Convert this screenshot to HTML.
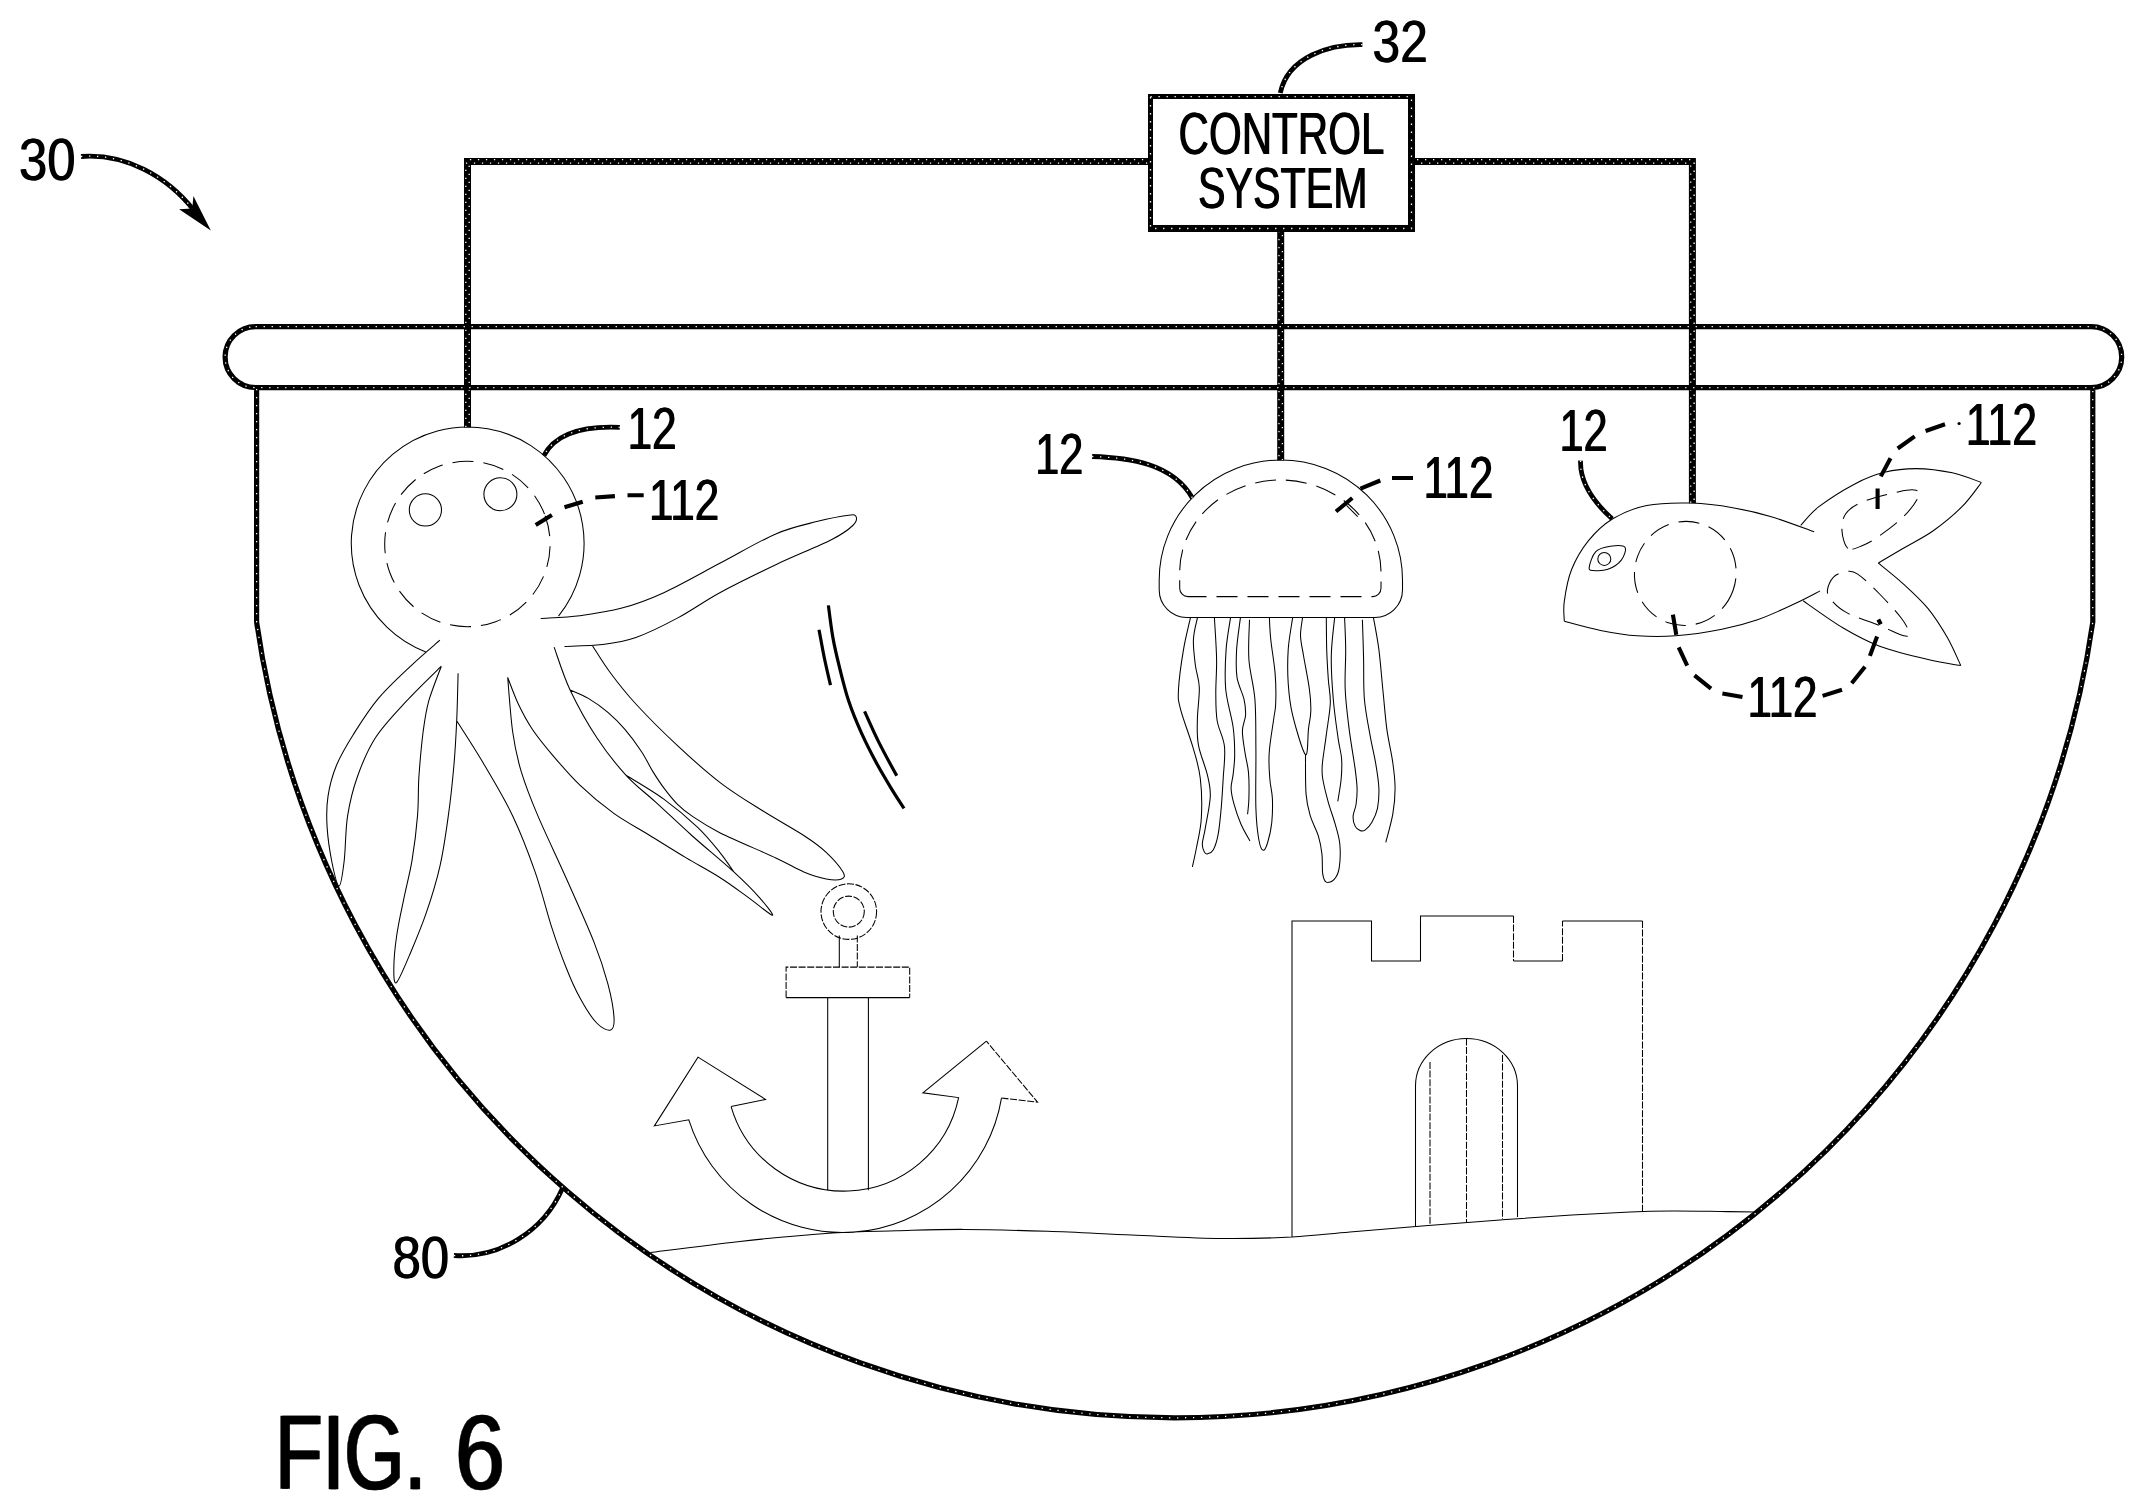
<!DOCTYPE html>
<html lang="en"><head><meta charset="utf-8"><title>FIG. 6</title>
<style>
html,body{margin:0;padding:0;background:#fff}
body{width:2144px;height:1512px;overflow:hidden}
svg{display:block;font-family:"Liberation Sans",sans-serif}
.thin{fill:none;stroke:#000;stroke-width:1.05}
.ds{stroke-dasharray:7 1.6}
.dl{stroke-dasharray:21 10}
.wire{fill:none;stroke:#000;stroke-width:7;stroke-linejoin:miter}
.frame{fill:none;stroke:#000;stroke-width:5.2}
.dots{fill:none;stroke:#fff;stroke-width:1.3;stroke-dasharray:1.3 6.7}
.med{fill:none;stroke:#000;stroke-width:4.8}
.dsh{fill:none;stroke:#000;stroke-width:4.1}
.mot{fill:none;stroke:#000;stroke-width:3.2}
.fill{fill:#000}
.txt{fill:#000}
.big{stroke:#000;stroke-width:0.4}
</style></head>
<body>
<svg width="2144" height="1512" viewBox="0 0 2144 1512">
<defs>
<filter id="hb1" x="-2%" y="-2%" width="104%" height="104%"><feOffset in="SourceGraphic" dx="0.5" result="a"/><feOffset in="SourceGraphic" dx="-0.5" result="b"/><feMerge><feMergeNode in="a"/><feMergeNode in="b"/></feMerge></filter>
<filter id="hb2" x="-5%" y="-10%" width="110%" height="120%"><feOffset in="SourceGraphic" dx="0.75" result="a"/><feOffset in="SourceGraphic" dx="-0.75" result="b"/><feMerge><feMergeNode in="a"/><feMergeNode in="b"/></feMerge></filter>
</defs>
<rect width="2144" height="1512" fill="#fff"/>
<g class="thin"><path d="M425.8 652A116.4 116.4 0 1 1 558.5 616.2M540.7 618.5C547.2 618 566.3 617.4 579.9 615.7C593.4 613.9 607.9 611.9 621.9 608.1C635.9 604.3 647.5 600.2 663.8 592.7C680.2 585.2 701.2 573.1 719.8 563.3C738.5 553.5 759.5 540.9 775.8 533.9C792.1 526.9 805.6 524.5 817.8 521.3C829.9 518.2 842.2 516 848.6 515.2C854.9 514.4 855.4 514.9 856.1 516.6C856.8 518.3 856.8 521.7 852.8 525.5C848.7 529.4 844.6 533 831.8 539.5C818.9 546.1 794.4 555.9 775.8 564.7C757.1 573.6 736.1 583.8 719.8 592.7C703.5 601.6 691.8 610.4 677.8 617.9C663.8 625.4 648.4 633.1 635.9 637.5C623.3 641.9 614.2 643 602.3 644.5C590.4 646 570.8 646.1 564.5 646.4M439.9 640.2C435.3 644.3 422.2 655.1 412 664.8C401.7 674.5 388.2 686.7 378.4 698.4C368.6 710 360.2 723.6 353.2 734.7C346.2 745.9 340.6 755.3 336.4 765.5C332.2 775.8 329.5 786.1 328 796.3C326.4 806.6 326.4 815.9 327.1 827.1C327.8 838.3 330.2 853.7 332.2 863.5C334.2 873.3 337.2 886.3 339.2 885.9C341.2 885.4 342.8 872.4 344.2 860.7C345.6 849 345.4 829.9 347.6 815.9C349.8 801.9 352.7 789.8 357.4 776.7C362 763.7 367.4 750.1 375.6 737.5C383.7 725 395.4 713.1 406.4 701.2C417.3 689.3 435.5 672 441.3 666.2M441.3 666.2C439.2 672 431.8 690.2 428.7 701.2C425.7 712.1 424.8 719.4 423.1 732C421.5 744.5 419.9 762.7 418.9 776.7C418 790.7 418.7 801.9 417.5 815.9C416.4 829.9 414.3 846.7 412 860.7C409.6 874.7 406.1 887.3 403.6 899.9C401 912.5 398.2 924.6 396.6 936.3C394.9 947.9 393.8 962.1 393.8 969.8C393.8 977.5 394 984.8 396.6 982.4C399.1 980.1 404.3 967.3 409.2 955.9C414 944.4 420.8 928.8 425.9 913.9C431.1 898.9 436.2 882.6 439.9 866.3C443.7 850 446 832.7 448.3 815.9C450.7 799.1 452.5 781.4 453.9 765.5C455.3 749.7 456 736.1 456.7 720.8C457.4 705.4 457.9 681.1 458.1 673.2M456.7 720.8C461.4 728.2 475.4 749.7 484.7 765.5C494 781.4 504.3 798.2 512.7 815.9C521.1 833.6 528.6 853.2 535.1 871.9C541.6 890.5 546.8 912 551.9 927.9C557 943.7 561.2 955.4 565.9 967C570.5 978.7 574.7 988.5 579.9 997.8C585 1007.2 591.5 1017.7 596.7 1023C601.8 1028.4 607.8 1031 610.7 1030C613.6 1029.1 614.5 1025.1 614 1017.4C613.6 1009.7 611.2 996.4 607.9 983.8C604.5 971.2 600.9 959.6 593.9 941.9C586.9 924.1 575.2 898.5 565.9 877.5C556.6 856.5 545.4 833.6 537.9 815.9C530.4 798.2 525.3 785.1 521.1 771.1C516.9 757.1 514.9 747.6 512.7 732C510.5 716.3 508.5 686.5 507.7 677.4M507.7 677.4C509.4 681.8 514.2 695.3 518.3 704C522.4 712.6 526.7 720.8 532.3 729.2C537.9 737.5 544 745 551.9 754.3C559.8 763.7 569.6 775.3 579.9 785.1C590.1 794.9 601.8 804.7 613.5 813.1C625.1 821.5 637.7 828 649.8 835.5C662 843 674.6 850.9 686.2 857.9C697.9 864.9 709.6 871 719.8 877.5C730.1 884 739 890.8 747.8 897.1C756.6 903.4 770.6 915.3 772.4 915.3C774.3 915.3 765.4 904.3 759 897.1C752.6 889.8 745 882.2 733.8 871.9C722.6 861.6 704.9 847.2 691.8 835.5C678.8 823.8 666.4 811.9 655.4 801.9C644.5 791.9 635.9 786.1 626.1 775.3C616.3 764.6 606 751.8 596.7 737.5C587.3 723.3 577.2 705 570.1 690C563 674.9 556.8 654.3 554.1 647.1M570.1 690C573.1 691.4 582 694.6 588.3 698.4C594.6 702.1 601.8 707.2 607.9 712.4C613.9 717.5 619.1 722.6 624.7 729.2C630.3 735.7 636.8 744.5 641.4 751.5C646.1 758.5 648.9 765.1 652.6 771.1C656.4 777.2 659.6 782.3 663.8 787.9C668 793.5 673.2 800.1 677.8 804.7C682.5 809.4 684.8 811.2 691.8 815.9C698.8 820.6 705.8 825.7 719.8 832.7C733.8 839.7 761.8 851.4 775.8 857.9C789.8 864.4 795.4 868.4 803.8 871.9C812.2 875.4 819.9 877.7 826.2 878.9C832.5 880.1 838.8 880.1 841.6 878.9C844.4 877.7 845.5 876.3 843 871.9C840.4 867.5 832.7 858.4 826.2 852.3C819.6 846.2 814.5 842.5 803.8 835.5C793 828.5 775.8 819.2 761.8 810.3C747.8 801.5 733.8 793.1 719.8 782.3C705.8 771.6 691.8 759 677.8 745.9C663.8 732.9 647 716.1 635.9 704C624.7 691.8 617.9 682.9 610.7 673.2C603.4 663.5 595.5 650.3 592.5 645.7M626.1 775.3C632.4 779.3 651.9 790.5 663.8 799.1C675.7 807.8 688.1 818.2 697.4 827.1C706.8 836 713.8 844.8 719.8 852.3C725.9 859.8 731.5 868.6 733.8 871.9M839.3 935.4V967.1M786.1 997.6H909.7M827.7 997.6V1190.2M868.4 997.6V1190.2M731.1 1106.6L765.5 1099.4L698 1057.1L654.4 1125.9L688.8 1119.8A161.2 161.2 0 0 0 1001.5 1098.1M986.4 1041.2L922.9 1092.8L958.6 1097.6A117.3 117.3 0 0 1 731.1 1106.6M650.4 1252.6C665.3 1250.7 709.6 1244.7 739.9 1241.4C770.2 1238.1 806.2 1234.8 832.3 1233C858.4 1231.2 874.8 1231.4 896.7 1230.8C918.6 1230.2 938.6 1229.3 963.8 1229.4C989 1229.5 1019.8 1230.4 1047.8 1231.3C1075.8 1232.2 1102.7 1233.8 1131.7 1235C1160.7 1236.2 1195.3 1238.2 1222 1238.5C1248.7 1238.8 1270.7 1238.1 1292 1237C1313.3 1235.9 1328.3 1233.8 1350 1232C1371.7 1230.2 1397 1228 1422 1226C1447 1224 1475 1221.8 1500 1220C1525 1218.2 1550.3 1216.3 1572 1215C1593.7 1213.7 1613.3 1212.7 1630 1212C1646.7 1211.3 1657 1211.1 1672 1211C1687 1210.9 1705.8 1211.3 1720 1211.5C1734.2 1211.7 1750.8 1211.9 1757 1212M1292 1237V921H1371.5V961H1420.5V916H1513.5M1513.5 961H1562.5M1562.5 921H1642.5M1415.5 1226V1086A51 47.5 0 0 1 1517.5 1086V1217M1186.7 617.4A27.5 27.5 0 0 1 1159.2 590V580A121.65 120 0 0 1 1402.5 580V590A27.5 27.5 0 0 1 1375 617.4ZM1346.5 505.4L1357.7 516.6M1190.4 617.9C1189.3 623.1 1185.5 637.7 1183.5 649.6C1181.5 661.5 1179 679.3 1178.5 689.3C1178 699.2 1178 699.2 1180.5 709.1C1183 719 1190.1 737.2 1193.4 748.8C1196.7 760.4 1199 767 1200.3 778.5C1201.7 790.1 1202 806.6 1201.3 818.2C1200.7 829.8 1197.9 839.9 1196.4 848C1194.9 856.1 1193.1 863.7 1192.4 866.8M1197.4 617.9C1196.7 621.5 1193.7 631.7 1193.4 639.7C1193.1 647.6 1194.4 657.5 1195.4 665.5C1196.4 673.4 1199 678.4 1199.3 687.3C1199.7 696.2 1197.5 709.4 1197.4 719C1197.2 728.6 1196.7 735.6 1198.4 744.8C1200 754.1 1205.3 766 1207.3 774.6C1209.3 783.2 1210.6 787.5 1210.3 796.4C1209.9 805.3 1206.6 820.2 1205.3 828.1C1204 836.1 1202.5 840 1202.3 844C1202.2 848 1203.5 850.3 1204.3 851.9C1205.1 853.6 1205.8 854.2 1207.3 853.9C1208.8 853.6 1211.4 853.3 1213.2 850C1215.1 846.6 1216.9 841 1218.2 834.1C1219.5 827.1 1220.3 817.5 1221.2 808.3C1222 799 1222.6 788.8 1223.2 778.5C1223.7 768.3 1225.5 756.4 1224.5 746.8C1223.6 737.2 1218.7 729.9 1217.2 721C1215.7 712.1 1215.9 703.5 1215.8 693.2C1215.7 683 1216.8 672.1 1216.6 659.5C1216.4 646.9 1214.8 624.8 1214.4 617.9M1230.5 617.9C1229.8 623.1 1226.9 637.7 1226.1 649.6C1225.3 661.5 1224.6 676.4 1225.7 689.3C1226.9 702.2 1231.6 716 1233.1 727C1234.6 737.9 1234.7 746.8 1234.7 754.7C1234.7 762.7 1233.7 768.9 1233.1 774.6C1232.5 780.2 1230.9 783.5 1231.1 788.5C1231.3 793.4 1232.4 798.4 1234.1 804.3C1235.7 810.3 1238.4 818 1241 824.2C1243.7 830.3 1248.4 838.2 1249.9 841M1240.4 617.9C1239.8 623.1 1237.2 639.7 1236.6 649.6C1236.1 659.5 1235.8 669.1 1237 677.4C1238.3 685.6 1242.6 692.9 1244 699.2C1245.4 705.5 1245.8 709.8 1245.6 715.1C1245.3 720.3 1242.5 724.6 1242.4 730.9C1242.3 737.2 1244 745.8 1245 752.7C1246 759.7 1247.9 765 1248.5 772.6C1249.2 780.2 1249.1 791.4 1248.9 798.4C1248.8 805.3 1247.8 811.6 1247.6 814.2M1249.5 619.8C1249.4 626.4 1248 646.3 1248.9 659.5C1249.8 672.7 1253.7 684.3 1254.9 699.2C1256.1 714.1 1255.7 730.6 1255.9 748.8C1256.1 767 1255.4 793.1 1255.9 808.3C1256.4 823.5 1257.6 833 1258.9 840C1260.1 847 1261.7 850 1263.2 850.3C1264.7 850.7 1266.4 846.7 1267.8 842C1269.2 837.3 1271 829.5 1271.8 822.2C1272.5 814.9 1272.7 805.6 1272.4 798.4C1272 791.1 1270.3 786.1 1269.8 778.5C1269.2 770.9 1268.5 762.7 1269.2 752.7C1269.8 742.8 1272.6 727.3 1273.7 719C1274.8 710.8 1275.5 710.8 1275.7 703.2C1276 695.5 1276 684 1275.1 673.4C1274.3 662.8 1271.7 648.9 1270.8 639.7C1269.8 630.4 1269.6 621.5 1269.4 617.9M1292.6 617.9C1291.9 623.1 1288.9 638.7 1288.2 649.6C1287.5 660.5 1287.5 672.4 1288.2 683.3C1288.9 694.2 1289.7 703.2 1292.6 715.1C1295.5 727 1302.8 752.4 1305.5 754.7C1308.1 757 1307.6 736.2 1308.5 728.9C1309.3 721.7 1310.7 717.7 1310.8 711.1C1311 704.5 1310.7 698.5 1309.4 689.3C1308.2 680 1305 664.5 1303.5 655.5C1302 646.6 1300.7 642 1300.5 635.7C1300.4 629.4 1302.2 620.8 1302.5 617.9M1305.5 754.7C1305.6 761.3 1305.2 784.2 1306.1 794.4C1306.9 804.7 1308.4 809.3 1310.4 816.2C1312.5 823.2 1316.5 829.8 1318.4 836.1C1320.3 842.3 1321.2 847.6 1321.9 853.9C1322.7 860.2 1322 869.1 1322.7 873.8C1323.5 878.5 1324.4 881.2 1326.3 882.1C1328.2 883 1332.1 881.7 1334.2 879.3C1336.4 876.9 1338.3 873.7 1339.2 867.8C1340.1 861.9 1340.5 851.3 1339.8 844C1339.1 836.7 1337.2 831.1 1335.2 824.2C1333.3 817.2 1330.4 809.9 1328.3 802.3C1326.2 794.7 1323.7 784.8 1322.7 778.5C1321.7 772.3 1321.7 771.9 1322.3 764.6C1322.9 757.4 1325 745.1 1326.3 734.9C1327.6 724.6 1329.9 712.4 1330.3 703.2C1330.6 693.9 1328.9 688.3 1328.3 679.3C1327.7 670.4 1327 659.8 1326.7 649.6C1326.4 639.3 1326.4 623.1 1326.3 617.9M1334.6 617.9C1334.1 624.1 1331.5 642 1331.3 655.5C1331 669.1 1332.1 685.3 1333.3 699.2C1334.4 713.1 1336.8 728.9 1338.2 738.9C1339.6 748.8 1341.1 752.1 1341.6 758.7C1342.1 765.3 1341.8 771.4 1341.2 778.5C1340.6 785.6 1338.4 797.5 1337.8 801.3M1344.6 617.9C1344.8 623.1 1345.6 637.7 1345.7 649.6C1345.8 661.5 1344.6 676 1345.2 689.3C1345.7 702.5 1347.5 715.7 1349.1 728.9C1350.8 742.2 1353.7 758.7 1355.1 768.6C1356.4 778.5 1356.9 782.5 1357.1 788.5C1357.2 794.4 1356.7 799.7 1356.1 804.3C1355.4 809 1353.3 812.6 1353.1 816.2C1352.9 819.9 1353.9 823.8 1355.1 826.1C1356.2 828.5 1358.4 829.8 1360 830.5C1361.7 831.2 1363 831.5 1365 830.1C1367 828.7 1369.9 825.8 1371.9 822.2C1374 818.5 1376.3 813.9 1377.5 808.3C1378.6 802.7 1379.1 795.7 1378.9 788.5C1378.6 781.2 1377.4 773.6 1375.9 764.6C1374.4 755.7 1371.9 745.8 1370 734.9C1368 724 1365.5 711.8 1364.4 699.2C1363.3 686.6 1363.9 672.7 1363.6 659.5C1363.3 646.3 1362.6 626.4 1362.4 619.8M1373.5 617.9C1374.4 623.1 1377.3 637.7 1378.9 649.6C1380.4 661.5 1381.5 676 1382.8 689.3C1384.2 702.5 1385.2 716.7 1386.8 728.9C1388.5 741.2 1391.4 752.7 1392.8 762.7C1394.2 772.6 1395.1 779.9 1395.1 788.5C1395.1 797.1 1394.3 805.3 1392.8 814.2C1391.2 823.2 1387 837.7 1385.8 842.4M1564.3 621.2C1564.3 617.9 1563 609.9 1564.3 601.3C1565.5 592.7 1567.5 579.9 1571.5 569.8C1575.6 559.7 1581.6 549.2 1588.5 540.7C1595.4 532.2 1603.1 524.7 1612.8 518.8C1622.5 513 1633.5 508.1 1646.7 505.5C1659.9 502.9 1677.5 502.7 1692.1 503.1C1706.6 503.5 1721 505.7 1734 507.9C1747.1 510.2 1757.1 512.5 1770.4 516.4C1783.8 520.4 1806.8 529.2 1814.1 531.7M1564.3 621.2C1570.3 622.7 1588.5 628 1600.6 630.4C1612.8 632.8 1624.5 634.9 1637 635.8C1649.5 636.6 1661.7 636.8 1675.8 635.8C1690 634.7 1708.2 631.9 1721.9 629.2C1735.7 626.5 1746.2 623.7 1758.3 619.5C1770.4 615.3 1784.4 608.5 1794.7 603.7C1805 599 1815.9 593 1820.1 590.9M1800.7 525.4C1803.8 522.3 1809.8 513.7 1818.9 506.7C1828 499.8 1844.4 489.4 1855.3 483.7C1866.2 477.9 1874.3 474.8 1884.4 472.3C1894.5 469.8 1904.6 468.6 1915.9 468.6C1927.3 468.7 1941.4 470.5 1952.3 472.8C1963.2 475.1 1976.6 480.8 1981.4 482.5M1981.4 482.5C1978.2 486.5 1970.1 498.6 1962 506.7C1953.9 514.8 1942.6 524.1 1932.9 531C1923.2 537.8 1912.9 542.6 1903.8 548C1894.7 553.3 1882.6 560.5 1878.3 563M1878.3 563C1882.6 566.5 1895.5 576.7 1903.8 584.3C1912.1 591.9 1920.8 599.7 1928.1 608.6C1935.3 617.5 1942 628.2 1947.5 637.7C1952.9 647.2 1958.6 660.9 1960.8 665.6M1960.8 665.6C1955.4 664.6 1941.6 662.8 1928.1 659.5C1914.5 656.3 1893.7 651.4 1879.6 646.2C1865.4 640.9 1855.9 635.5 1843.2 628C1830.4 620.4 1809.8 605.4 1803.2 600.8M1589.2 567.4C1589.6 564.2 1592.3 555.1 1595.8 551.6C1599.3 548.1 1605.5 547 1610.3 546.3C1615.2 545.5 1623.1 544.9 1624.9 547.2C1626.7 549.5 1624.1 556.4 1621.3 560.1C1618.4 563.8 1612.6 567.6 1607.9 569.3C1603.3 571 1596.5 570.8 1593.4 570.5C1590.2 570.2 1588.8 570.5 1589.2 567.4Z"/><circle cx="425.4" cy="509.9" r="16.1"/><circle cx="500.4" cy="494.2" r="16.5"/><circle cx="1604.3" cy="558.9" r="6.5"/></g>
<g class="thin ds"><path d="M857.3 935.4V967.1M786.1 997.6V967.1H909.7V997.6M1001.5 1098.1L1037.5 1102.1L986.4 1041.2M1513.5 916V961M1562.5 961V921M1642.5 921V1211M1430 1062V1225M1466.5 1038.5V1222M1502.5 1055V1219"/><circle cx="848.8" cy="911.6" r="27.8"/><circle cx="848.8" cy="911.6" r="15.5"/></g>
<g class="thin dl"><path d="M1188 596.6A8.3 8.3 0 0 1 1179.7 588.3V572A100.65 92 0 0 1 1381 572V588.3A8.3 8.3 0 0 1 1372.7 596.6ZM1848 548.4C1844.6 546 1842.4 536.7 1842 531C1841.6 525.2 1842.2 518.8 1845.6 514C1849 509.1 1853.7 505.6 1862.6 501.9C1871.5 498.1 1890.1 493.6 1899 491.7C1907.9 489.7 1912.7 489.3 1915.9 490.2C1919.2 491.1 1920.4 492.7 1918.4 497C1916.3 501.4 1910.3 510 1903.8 516.4C1897.3 522.9 1886.4 531 1879.6 535.8C1872.7 540.7 1867.8 543.4 1862.6 545.5C1857.3 547.6 1851.5 550.9 1848 548.4ZM1827.4 590.4C1827.6 586.4 1830.4 580.2 1833.5 577.1C1836.5 573.9 1841.6 572.2 1845.6 571.7C1849.6 571.2 1852.1 570.4 1857.7 574.1C1863.4 577.9 1872.3 586.7 1879.6 594C1886.8 601.4 1896.5 611.8 1901.4 618.3C1906.3 624.8 1908.7 629.9 1909.1 632.8C1909.6 635.8 1908.7 637 1903.8 635.8C1898.9 634.5 1888.9 629.3 1879.6 625.6C1870.3 621.8 1855.9 617.5 1848 613.4C1840.1 609.4 1835.7 605.1 1832.3 601.3C1828.8 597.5 1827.2 594.4 1827.4 590.4Z"/><circle cx="467.4" cy="544" r="82.7" transform="rotate(-20 467.4 544)"/><ellipse cx="1685.3" cy="573.4" rx="50.7" ry="52.2" transform="rotate(20 1685.3 573.4)"/></g>
<g class="wire"><path d="M467.5 427.6V161.4H1150M1412 161.4H1692.4V503.3M1280.7 229V460.4"/></g>
<g class="dots"><path d="M465.8 427V163.1H1149M469.2 423V159.7H1149M1413 163.1H1690.7V503M1417 159.7H1694.1V503M1279 231V460M1282.4 235V460"/></g>
<g class="frame"><path d="M255.6 326.6H2091.2A30.5 30.5 0 0 1 2091.2 387.6H255.6A30.5 30.5 0 0 1 255.6 326.6ZM256.6 389V622A927.5 927.5 0 0 0 2092.8 622V389"/></g>
<g class="dots"><path d="M255.6 326.6H2091.2A30.5 30.5 0 0 1 2091.2 387.6H255.6A30.5 30.5 0 0 1 255.6 326.6ZM256.6 389V622A927.5 927.5 0 0 0 2092.8 622V389"/></g>
<path class="fill" fill-rule="evenodd" d="M1148 94.1H1415V232.1H1148ZM1153 99V225H1408V99Z"/>
<g class="dots"><path d="M1150.5 96.6H1411.5V228.5H1150.5Z"/></g>
<g class="med"><path d="M619.8 427.4C593.2 426.2 557.8 428.9 543.9 455.7M1092.1 456.5C1128.5 457.6 1172.3 463 1192.4 498M1580.6 460.6C1579.5 484.4 1595.5 503.8 1612.1 518.8M1362.4 44.6C1329.8 44 1287.7 56.8 1280.3 93.1M453.9 1255.5C500.3 1258.7 543.9 1230.6 562.3 1188.6M81 156.5C125.4 153.2 167.1 176.1 194 210.5"/></g>
<g class="dots"><path d="M619.8 427.4C593.2 426.2 557.8 428.9 543.9 455.7M1092.1 456.5C1128.5 457.6 1172.3 463 1192.4 498M1580.6 460.6C1579.5 484.4 1595.5 503.8 1612.1 518.8M1362.4 44.6C1329.8 44 1287.7 56.8 1280.3 93.1M453.9 1255.5C500.3 1258.7 543.9 1230.6 562.3 1188.6M81 156.5C125.4 153.2 167.1 176.1 194 210.5"/></g>
<g class="dsh"><path d="M627.5 495.3L643.7 495.3M595.3 497.5L614.9 496.1M564.5 507.3L582.7 501.7M535.7 525L551.9 514.9M1392 478L1413 478M1360.5 488.6L1380.3 480.5M1336 511.5L1352.3 498M1925.6 431L1945 424.3M1897.7 448.5L1914.7 436.4M1880.8 476.4L1890.5 458.2M1877.6 488.5L1877.6 509.1M1672.9 614.6L1676.3 634.8M1678.7 647.4L1687.2 665.6M1694.5 675.3L1711 688.6M1722.4 693.5L1742.5 697.1M1822.6 695.9L1842 689.8M1851.7 683.3L1865 666.8M1869.9 655.9L1877.1 636.5M1878.3 619.5L1880.8 624.3"/></g>
<g class="mot"><path d="M828.4 605.4C829.1 610.8 831.1 627.5 832.9 637.6C834.7 647.7 836.6 655.6 839.2 666.2C841.8 676.8 845 690 848.7 701.1C852.4 712.2 856.6 722.3 861.4 732.9C866.2 743.5 872 754.8 877.3 764.6C882.6 774.4 888.8 784.3 893.2 791.6C897.7 798.9 902.2 805.5 904 808.3M819 629.7C819.9 634.2 822.2 647.5 824.1 656.7C826 666 829.4 680.5 830.5 685.2M864.6 711.4C867 716.6 873.5 731.7 878.9 742.4C884.2 753.1 893.7 770.2 896.7 775.7"/></g>
<path class="fill" d="M210.8 230.6L179.1 209.3L192.3 208.6L193.4 195.9Z"/>
<circle class="fill" cx="1959.1" cy="423.5" r="1.6"/>
<g class="txt" filter="url(#hb1)"><text transform="translate(18.4 179.9) scale(0.871 1)" font-size="58.4">30</text><text transform="translate(1372.1 61.5) scale(0.835 1)" font-size="59.4">32</text><text transform="translate(1178 153.5) scale(0.716 1)" font-size="58.8">CONTROL</text><text transform="translate(1197.5 208.4) scale(0.710 1)" font-size="58.1">SYSTEM</text><text transform="translate(626.9 449) scale(0.756 1)" font-size="58.8">12</text><text transform="translate(648.5 520) scale(0.757 1)" font-size="58.2">112</text><text transform="translate(1034.8 474.2) scale(0.747 1)" font-size="57.9">12</text><text transform="translate(1423 498) scale(0.747 1)" font-size="58.6">112</text><text transform="translate(1559 450.9) scale(0.734 1)" font-size="59.1">12</text><text transform="translate(1965.2 444.9) scale(0.756 1)" font-size="59.2">112</text><text transform="translate(1747 716.5) scale(0.766 1)" font-size="57.3">112</text><text transform="translate(391.9 1278.1) scale(0.862 1)" font-size="59.2">80</text></g>
<g class="txt big" filter="url(#hb2)"><text transform="translate(275.3 1489.4) scale(0.736 1)" font-size="105.3">FIG.</text><text transform="translate(455.3 1489.4) scale(0.846 1)" font-size="105.3">6</text></g>
</svg>
</body></html>
